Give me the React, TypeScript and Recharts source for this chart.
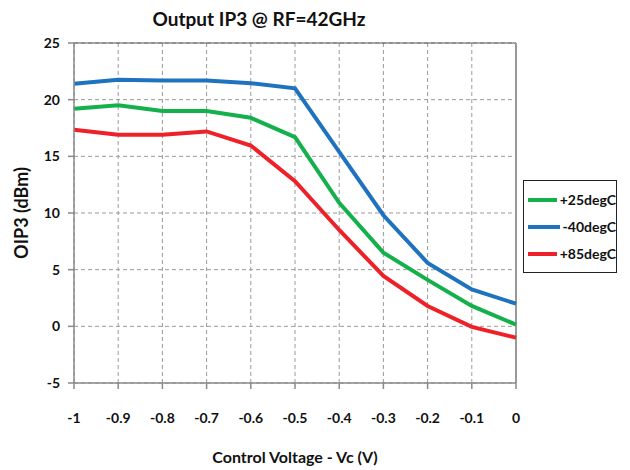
import React from 'react';
import { LineChart, Line, XAxis, YAxis, CartesianGrid, Legend, ReferenceLine, Label } from 'recharts';

const voltages = [-1, -0.9, -0.8, -0.7, -0.6, -0.5, -0.4, -0.3, -0.2, -0.1, 0];
const temp25 = [19.2, 19.5, 19.0, 19.0, 18.4, 16.7, 10.9, 6.5, 4.1, 1.8, 0.15];
const tempMinus40 = [21.4, 21.75, 21.7, 21.7, 21.45, 21.0, 15.4, 9.8, 5.6, 3.25, 2.0];
const temp85 = [17.35, 16.9, 16.9, 17.2, 15.95, 12.8, 8.5, 4.45, 1.8, -0.05, -1.0];
const xTicks = [-1, -0.9, -0.8, -0.7, -0.6, -0.5, -0.4, -0.3, -0.2, -0.1, 0];
const yTicks = [-5, 0, 5, 10, 15, 20, 25];

const series = [
  { key: 't25', name: '+25degC', color: '#14b04b', values: temp25 },
  { key: 'tm40', name: '-40degC', color: '#1f73be', values: tempMinus40 },
  { key: 't85', name: '+85degC', color: '#ee2028', values: temp85 },
];

const data = voltages.map((v, i) => ({
  vc: v,
  t25: temp25[i],
  tm40: tempMinus40[i],
  t85: temp85[i],
}));

const FONT = "Lato, 'Liberation Sans', sans-serif";
const axisColor = '#8a8a8a';

const LegendBox = () => (
  <div style={{ border: '1px solid #222', background: '#fff', padding: '5px 0 5px 4px', width: 94, boxSizing: 'border-box' }}>
    {series.map(s => (
      <div key={s.key} style={{ display: 'flex', alignItems: 'center', height: 27 }}>
        <div style={{ width: 32, height: 4, background: s.color, marginRight: 3 }} />
        <span style={{ fontFamily: FONT, fontWeight: 700, fontSize: 14, color: '#111' }}>{s.name}</span>
      </div>
    ))}
  </div>
);

export default function App() {
  return (
    <div style={{ position: 'absolute', left: 0, top: 0, width: 630, height: 470, background: '#fff' }}>
      <div style={{ position: 'absolute', left: 0, top: 7, width: 518, textAlign: 'center', fontFamily: FONT, fontWeight: 700, fontSize: 19, color: '#111' }}>
        Output IP3 @ RF=42GHz
      </div>
      <LineChart width={630} height={470} data={data} margin={{ top: 43, right: 114, bottom: 27, left: 20 }}>
        <CartesianGrid stroke="#9a9a9a" strokeDasharray="4 3" />
        <XAxis
          dataKey="vc"
          type="number"
          domain={[-1, 0]}
          ticks={xTicks}
          height={60}
          stroke={axisColor}
          strokeWidth={1.5}
          tickSize={6}
          tickMargin={24}
          tick={{ fill: '#111', fontFamily: FONT, fontWeight: 700, fontSize: 14 }}
        >
          <Label value="Control Voltage - Vc (V)" position="bottom" offset={9} fill="#111" fontFamily={FONT} fontWeight={700} fontSize={16} />
        </XAxis>
        <YAxis
          type="number"
          domain={[-5, 25]}
          ticks={yTicks}
          width={54}
          stroke={axisColor}
          strokeWidth={1.5}
          tickSize={6}
          tickMargin={8}
          tick={{ fill: '#111', fontFamily: FONT, fontWeight: 700, fontSize: 14 }}
        >
          <Label value="OIP3 (dBm)" angle={-90} position="center" dx={-25} fill="#111" fontFamily={FONT} fontWeight={700} fontSize={18} />
        </YAxis>
        <ReferenceLine y={25} stroke="#555" strokeWidth={1} />
        <ReferenceLine x={0} stroke="#999" strokeWidth={2} />
        {series.map(s => (
          <Line
            key={s.key}
            dataKey={s.key}
            name={s.name}
            stroke={s.color}
            strokeWidth={4}
            dot={false}
            activeDot={false}
            isAnimationActive={false}
          />
        ))}
        <Legend
          layout="vertical"
          align="center"
          verticalAlign="middle"
          content={() => <LegendBox />}
          wrapperStyle={{ left: 523, top: 180, width: 94 }}
        />
      </LineChart>
    </div>
  );
}
